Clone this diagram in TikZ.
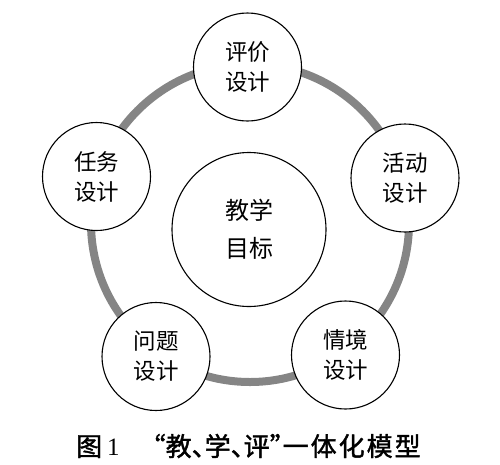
\documentclass[tikz,border=0pt]{standalone}
\usepackage{fontspec}
\newfontfamily\cjk{Noto Sans CJK SC}
\newfontfamily\capcjk[FakeBold=1.5]{Noto Sans CJK SC}
\newfontfamily\capserif{Liberation Serif}
\definecolor{ringgray}{RGB}{133,133,133}
\newcommand{\myleftp}[1]{\makebox[13pt][r]{#1}}
\newcommand{\myrightp}[1]{\makebox[13pt][l]{#1}}
\newcommand{\mych}[1]{#1\hspace{2pt}}
\begin{document}
\begin{tikzpicture}[x=1pt,y=-1pt,
  ring/.style={draw=ringgray, line width=8pt},
  part/.style={circle, draw=black, line width=1.1pt, fill=white, minimum size=108pt, inner sep=0pt, align=center, font=\cjk\fontsize{22.5}{30}\selectfont},
  goal/.style={circle, draw=black, line width=1.1pt, fill=white, minimum size=154pt, inner sep=0pt, align=center, font=\cjk\fontsize{24}{38}\selectfont},
  caption/.style={font=\capcjk\fontsize{26}{30}\selectfont, inner sep=0pt, anchor=west}]
\useasboundingbox (0,0) rectangle (500,464);
\coordinate (c) at (250,223);
\draw[ring] (c) circle[radius=159pt];
\node[goal] (goal) at (249,229.5) {教学\\目标};
\node[part] (eval) at (247.5,67) {评价\\设计};
\node[part] (act) at (405,178) {活动\\设计};
\node[part] (task) at (96.5,176.5) {任务\\设计};
\node[part] (prob) at (156,356.5) {问题\\设计};
\node[part] (situ) at (345.5,355) {情境\\设计};
\node[caption] (cap) at (76,446) {图\hspace{5pt}{\capserif\fontsize{25}{30}\selectfont 1}\hspace{33pt}\myleftp{“}教\myrightp{、}学\myrightp{、}评\myrightp{”}\mych{一}\mych{体}\mych{化}\mych{模}型};
\end{tikzpicture}
\end{document}
